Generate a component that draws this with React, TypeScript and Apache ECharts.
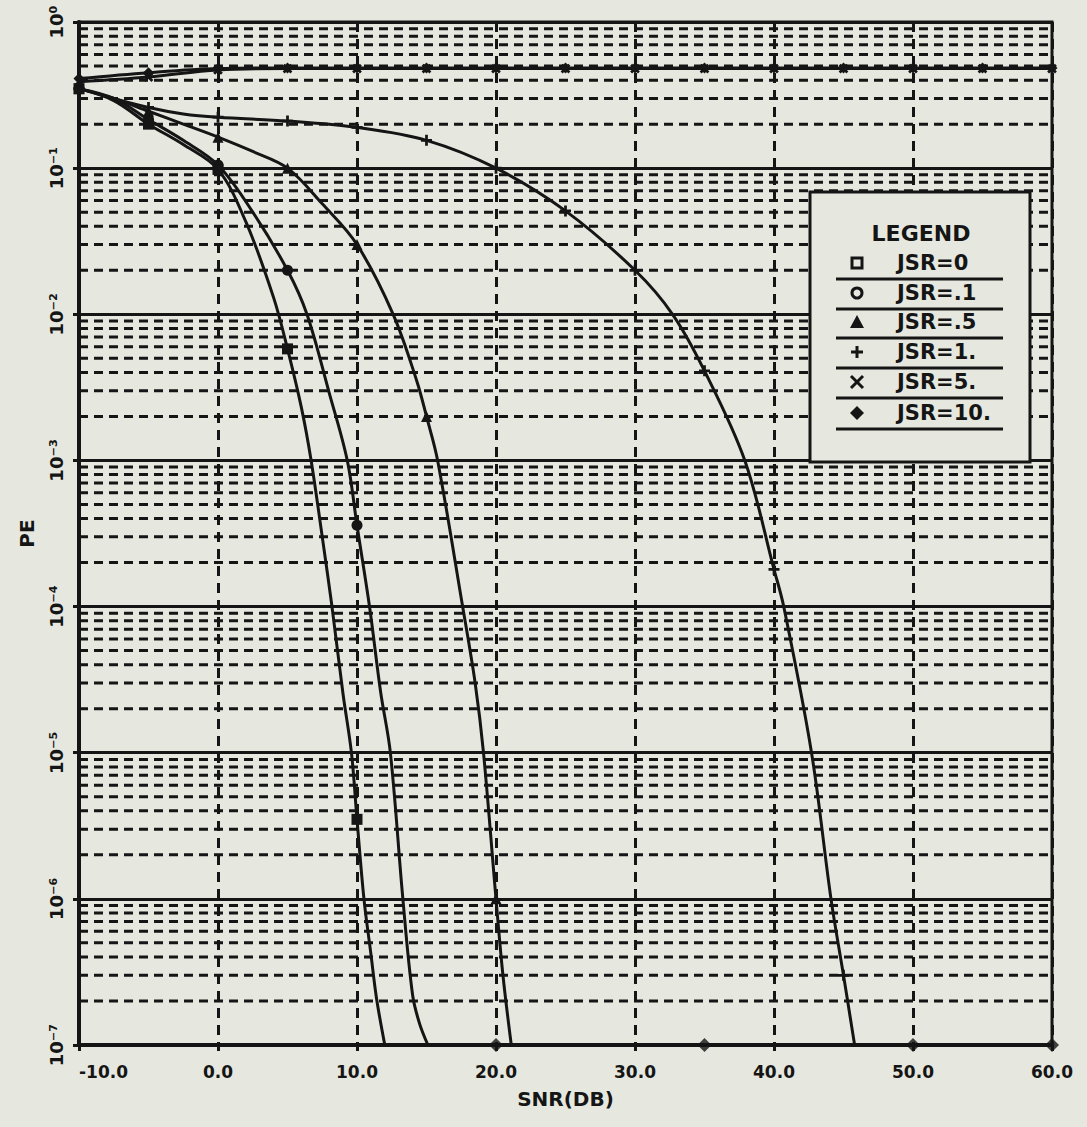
import React, { useEffect, useRef } from "react";
import * as echarts from "echarts";

// ---------- data ----------
const legendLabels = ["JSR=0", "JSR=.1", "JSR=.5", "JSR=1.", "JSR=5.", "JSR=10."];

const xA = [-10, -7.5, -5, -2.5, 0, 2, 4, 5, 6, 6.7, 7.5, 8.2, 9, 9.6, 10, 10.5, 11, 11.4, 12];
const yA = [0.35, 0.29, 0.2, 0.145, 0.098, 0.043, 0.013, 0.0058, 0.0023, 0.001, 0.0003, 0.0001, 2.5e-5, 1e-5, 3.5e-6, 1e-6, 4.2e-7, 2.1e-7, 1e-7];

const xB = [-10, -7.5, -5, -2.5, 0, 2.5, 5, 6.4, 8, 9.3, 10, 10.9, 11.7, 12.4, 13.3, 14, 14.5, 15.1];
const yB = [0.35, 0.3, 0.215, 0.155, 0.105, 0.05, 0.02, 0.01, 0.0029, 0.001, 3.6e-4, 1e-4, 2.6e-5, 1e-5, 1e-6, 2.2e-7, 1.4e-7, 1e-7];

const xC = [-10, -7.5, -5, -2.5, 0, 2.5, 5, 7.5, 10, 12.6, 14.3, 15, 15.8, 17.6, 18.5, 19.1, 20, 20.5, 21.1];
const yC = [0.35, 0.3, 0.245, 0.2, 0.163, 0.13, 0.1, 0.057, 0.03, 0.01, 0.0035, 0.002, 0.001, 1e-4, 3e-5, 1e-5, 1e-6, 3e-7, 1e-7];

const xD = [-10, -7.5, -5, -2.5, 0, 5, 10, 15, 20, 25, 30, 32.7, 35, 37.9, 40, 40.7, 42.7, 44.1, 45, 45.8];
const yD = [0.35, 0.3, 0.26, 0.235, 0.223, 0.21, 0.19, 0.155, 0.1, 0.051, 0.02, 0.01, 0.0041, 0.001, 1.8e-4, 1e-4, 1e-5, 1e-6, 3e-7, 1e-7];

const xE = [-10, -5, 0, 5, 10, 15, 20, 25, 30, 35, 40, 45, 50, 55, 60];
const yE = [0.39, 0.42, 0.47, 0.48, 0.48, 0.48, 0.48, 0.48, 0.48, 0.48, 0.48, 0.48, 0.48, 0.48, 0.48];

const xF = [-10, -5, 0, 5, 10, 15, 20, 25, 30, 35, 40, 45, 50, 55, 60];
const yF = [0.41, 0.45, 0.48, 0.485, 0.485, 0.485, 0.485, 0.485, 0.485, 0.485, 0.485, 0.485, 0.485, 0.485, 0.485];

// points sitting on the lower frame (values clipped at 1e-7)
const floorX = [20, 35, 50, 60];
const floorY = [1e-7, 1e-7, 1e-7, 1e-7];

const xTicks = [-10, 0, 10, 20, 30, 40, 50, 60];
const decades = [1, 2, 3, 4, 5, 6, 7];
const mantissas = [2, 3, 4, 5, 6, 7, 8, 9];

// ---------- styling ----------
const INK = "#151515";
const BG = "#e6e8df";
const FONT = "DejaVu Sans";
const PLUS = "path://M3,0H5V3H8V5H5V8H3V5H0V3H3Z";

const supMap: Record<string, string> = {
  "-": "⁻", "0": "⁰", "1": "¹", "2": "²", "3": "³", "4": "⁴", "5": "⁵", "6": "⁶", "7": "⁷",
};
const sup = (n: number) => String(n).split("").map((c) => supMap[c] || c).join("");

const isMult5 = (x: number) => Math.abs(x / 5 - Math.round(x / 5)) < 1e-9;

function curve(name: string, xs: number[], ys: number[], symbol: string, rotate = 0) {
  return {
    type: "line",
    name,
    data: xs.map((x, i) => [x, ys[i]]),
    symbol: (v: number[]) => (isMult5(v[0]) ? symbol : "none"),
    symbolSize: 11,
    symbolRotate: rotate,
    showAllSymbol: true,
    smooth: 0.35,
    lineStyle: { color: INK, width: 3 },
    itemStyle: { color: INK },
    z: 5,
  };
}

export default function App() {
  const ref = useRef<HTMLDivElement>(null);

  useEffect(() => {
    document.body.style.margin = "0";
    document.body.style.background = BG;
    const chart = echarts.init(ref.current!, undefined, { renderer: "svg" });

    const minorVals: number[] = [];
    decades.forEach((d) => mantissas.forEach((m) => minorVals.push(m * Math.pow(10, -d))));

    const minorSeries = minorVals.map((v) => ({
      type: "line",
      name: "grid",
      data: [
        [xTicks[0], v],
        [xTicks[xTicks.length - 1], v],
      ],
      symbol: "none",
      silent: true,
      z: 1,
      lineStyle: { color: INK, width: 3, type: [9, 6] },
    }));

    // legend geometry
    const rowY = [263, 293, 322, 352, 382, 413];
    const symX = 857;
    const Z = 101;
    const legendGraphics: any[] = [
      {
        type: "rect",
        shape: { x: 810, y: 192, width: 220, height: 270 },
        style: { fill: BG, stroke: INK, lineWidth: 3 },
        z: 100,
      },
      {
        type: "text",
        x: 921,
        y: 233,
        style: {
          text: "LEGEND",
          font: `bold 22px "${FONT}"`,
          fill: INK,
          align: "center",
          verticalAlign: "middle",
        },
        z: Z,
      },
    ];
    legendLabels.forEach((lab, i) => {
      const y = rowY[i];
      legendGraphics.push({
        type: "line",
        shape: { x1: 836, y1: y + 16, x2: 1003, y2: y + 16 },
        style: { stroke: INK, lineWidth: 3 },
        z: Z,
      });
      legendGraphics.push({
        type: "text",
        x: 897,
        y: y,
        style: {
          text: lab,
          font: `bold 21px "${FONT}"`,
          fill: INK,
          align: "left",
          verticalAlign: "middle",
        },
        z: Z,
      });
      if (i === 0) {
        legendGraphics.push({ type: "rect", z: Z, shape: { x: symX - 5, y: y - 5, width: 10, height: 10 }, style: { fill: BG, stroke: INK, lineWidth: 3 } });
      } else if (i === 1) {
        legendGraphics.push({ type: "circle", z: Z, shape: { cx: symX, cy: y, r: 5 }, style: { fill: BG, stroke: INK, lineWidth: 3 } });
      } else if (i === 2) {
        legendGraphics.push({ type: "polygon", z: Z, shape: { points: [[symX, y - 7], [symX + 7, y + 6], [symX - 7, y + 6]] }, style: { fill: INK } });
      } else if (i === 3) {
        legendGraphics.push({ type: "line", z: Z, shape: { x1: symX - 6, y1: y, x2: symX + 6, y2: y }, style: { stroke: INK, lineWidth: 3 } });
        legendGraphics.push({ type: "line", z: Z, shape: { x1: symX, y1: y - 6, x2: symX, y2: y + 6 }, style: { stroke: INK, lineWidth: 3 } });
      } else if (i === 4) {
        legendGraphics.push({ type: "line", z: Z, shape: { x1: symX - 6, y1: y - 6, x2: symX + 6, y2: y + 6 }, style: { stroke: INK, lineWidth: 3 } });
        legendGraphics.push({ type: "line", z: Z, shape: { x1: symX + 6, y1: y - 6, x2: symX - 6, y2: y + 6 }, style: { stroke: INK, lineWidth: 3 } });
      } else {
        legendGraphics.push({ type: "polygon", z: Z, shape: { points: [[symX, y - 7], [symX + 7, y], [symX, y + 7], [symX - 7, y]] }, style: { fill: INK } });
      }
    });

    const option: any = {
      animation: false,
      backgroundColor: BG,
      grid: {
        left: 79,
        right: 35,
        top: 22,
        bottom: 82,
        show: true,
        borderColor: INK,
        borderWidth: 3,
        backgroundColor: "transparent",
      },
      xAxis: {
        type: "value",
        min: -10,
        max: 60,
        interval: 10,
        name: "SNR(DB)",
        nameLocation: "middle",
        nameGap: 44,
        nameTextStyle: { fontFamily: FONT, fontWeight: "bold", fontSize: 20, color: INK },
        axisLine: { show: true, onZero: false, lineStyle: { color: INK, width: 4 } },
        axisTick: { show: true, length: 6, lineStyle: { color: INK, width: 3 } },
        axisLabel: {
          formatter: (v: number) => (xTicks.includes(v) ? v.toFixed(1) : ""),
          fontFamily: FONT,
          fontWeight: "bold",
          fontSize: 17,
          color: INK,
          margin: 18,
          alignMinLabel: "left",
        },
        splitLine: { show: true, lineStyle: { color: INK, width: 3, type: [10, 7] } },
      },
      yAxis: {
        type: "log",
        logBase: 10,
        min: 1e-7,
        max: 1,
        name: "PE",
        nameLocation: "middle",
        nameRotate: 90,
        nameGap: 42,
        nameTextStyle: { fontFamily: FONT, fontWeight: "bold", fontSize: 20, color: INK },
        axisLine: { show: true, onZero: false, lineStyle: { color: INK, width: 4 } },
        axisTick: { show: true, length: 6, lineStyle: { color: INK, width: 3 } },
        axisLabel: {
          rotate: 90,
          margin: 14,
          formatter: (v: number) => "10" + sup(Math.round(Math.log10(v))),
          fontFamily: FONT,
          fontWeight: "bold",
          fontSize: 18,
          color: INK,
        },
        splitLine: { show: true, lineStyle: { color: INK, width: 3, type: "solid" } },
      },
      series: [
        ...minorSeries,
        curve(legendLabels[0], xA, yA, "rect"),
        curve(legendLabels[1], xB, yB, "circle"),
        curve(legendLabels[2], xC, yC, "triangle"),
        curve(legendLabels[3], xD, yD, PLUS),
        curve(legendLabels[4], xE, yE, PLUS, 45),
        curve(legendLabels[5], xF, yF, "diamond"),
        {
          type: "scatter",
          name: "floor",
          data: floorX.map((x, i) => [x, floorY[i]]),
          symbol: "diamond",
          symbolSize: 14,
          clip: false,
          itemStyle: { color: INK },
          z: 6,
        },
      ],
      graphic: legendGraphics,
    };

    chart.setOption(option);
    return () => chart.dispose();
  }, []);

  return <div ref={ref} style={{ width: 1087, height: 1127, background: BG }} />;
}
